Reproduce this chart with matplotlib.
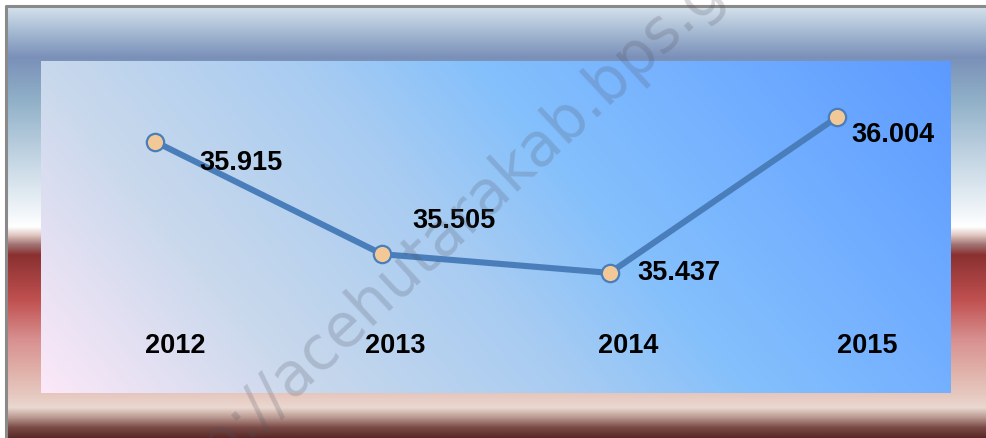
import numpy as np
import matplotlib
matplotlib.use("Agg")
import matplotlib.pyplot as plt
from matplotlib.colors import to_rgb

# ---- data ----
years = ['2012', '2013', '2014', '2015']
values = [35.915, 35.505, 35.437, 36.004]

# ---- style ----
W, H = 986, 438
label_offsets = [(45, -21), (30, 33), (28, 0), (14, -18)]   # pixels from point
year_offsets = [20, 13, 18, 30]                             # pixels from category centre
line_color = '#4a7ebb'
marker_face = '#f2c896'
font = 'Liberation Sans'

def gradient(stops, n):
    pos = np.array([s[0] for s in stops])
    cols = np.array([to_rgb(s[1]) for s in stops])
    t = np.linspace(0, 1, n)
    return np.stack([np.interp(t, pos, cols[:, c]) for c in range(3)], axis=-1)

fig = plt.figure(figsize=(W / 100, H / 100), dpi=100)
fig.patch.set_facecolor('white')

# ---- outer frame ----
bg = fig.add_axes([0, 0, 1, 1])
bg.set_xlim(0, W)
bg.set_ylim(H, 0)
bg.axis('off')
frame_stops = [
    (0 / 433, '#d8e4ee'), (25 / 433, '#a8bcd4'), (52 / 433, '#7a90b8'),
    (95 / 433, '#90b0c8'), (145 / 433, '#bcd0e0'), (195 / 433, '#e6eef4'),
    (222 / 433, '#ffffff'), (230 / 433, '#e0c8c0'), (240 / 433, '#a07070'),
    (250 / 433, '#8a3030'), (295 / 433, '#c05050'), (335 / 433, '#d89090'),
    (365 / 433, '#e0b0a8'), (390 / 433, '#e6c8c0'), (403 / 433, '#ead8d0'),
    (413 / 433, '#b89890'), (423 / 433, '#7a4a45'), (433 / 433, '#5a2a28'),
]
g = gradient(frame_stops, 433)[:, None, :]
bg.imshow(g, extent=(5, W, H, 5), aspect='auto', interpolation='bilinear', zorder=0)
bg.plot([5.5, 5.5, W], [H, 6, 6], color='#8a8a8a', lw=2.2, zorder=1, solid_capstyle='butt')

# ---- plot area ----
x0, x1, y0, y1 = 41, 951, 61, 393
ax = fig.add_axes([x0 / W, 1 - y1 / H, (x1 - x0) / W, (y1 - y0) / H])
ny, nx = 200, 400
xn = np.linspace(0, 1, nx)[None, :]
yn = np.linspace(1, 0, ny)[:, None]
t = (xn + 0.3 * yn) / 1.3
inner_stops = [(0, '#fce8f8'), (0.23, '#c8d8ec'), (0.45, '#a8ccf2'),
               (0.6, '#84c0fc'), (0.77, '#74b0ff'), (1.0, '#5c9aff')]
lut = gradient(inner_stops, 512)
img = lut[np.clip((t * 511).astype(int), 0, 511)]
ax.imshow(img, extent=(0, 1, 0, 1), transform=ax.transAxes, aspect='auto',
          interpolation='bilinear', zorder=0)

xs = np.arange(len(years))
ax.plot(xs, values, color=line_color, lw=4.4, zorder=3, solid_capstyle='round')
ax.plot(xs, values, 'o', ms=12.5, mfc=marker_face, mec=line_color, mew=1.6, zorder=4)

ax.set_xlim(-0.5, len(years) - 0.5)
ax.set_ylim(35.0, 36.208)
ax.axis('off')

for x, v, off in zip(xs, values, label_offsets):
    ax.annotate(f'{v:.3f}', (x, v), xytext=off, textcoords='offset pixels',
                ha='left', va='center', fontsize=19.5, fontweight='bold',
                family=font, color='black', zorder=5)

trans = ax.get_xaxis_transform()
for x, yr, off in zip(xs, years, year_offsets):
    ax.annotate(yr, (x, 0.1416), xycoords=trans, xytext=(off, 0),
                textcoords='offset pixels', ha='center', va='center',
                fontsize=19.5, fontweight='bold', family=font, color='black', zorder=5)

# ---- watermark ----
fig.text(482 / W, 1 - 220 / H, 'http://acehutarakab.bps.go.id', rotation=43,
         rotation_mode='anchor', ha='center', va='baseline', fontsize=43,
         family='DejaVu Sans', color='#505060', alpha=0.22, zorder=10)

fig.savefig('out.png', dpi=100)
